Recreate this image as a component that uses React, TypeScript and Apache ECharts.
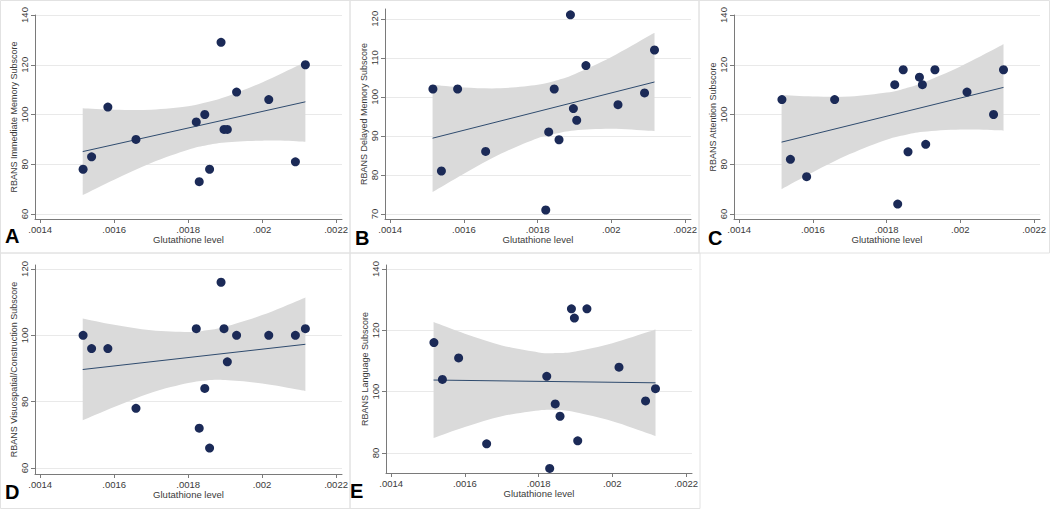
import React, { useEffect, useRef } from "react";
import * as echarts from "echarts";

// Glutathione level of each subject (shared by every panel)
const glutathione = [0.001516, 0.001539, 0.001583, 0.001659, 0.001822, 0.00183, 0.001845, 0.001858, 0.001889, 0.001897, 0.001906, 0.001931, 0.002018, 0.00209, 0.002117];

// RBANS subscores
const immediateMemory = [78, 83, 103, 90, 97, 73, 100, 78, 129, 94, 94, 109, 106, 81, 120];
const delayedMemory = [102, 81, 102, 86, 71, 91, 102, 89, 121, 97, 94, 108, 98, 101, 112];
const attention = [106, 82, 75, 106, 112, 64, 118, 85, 115, 112, 88, 118, 109, 100, 118];
const visuospatial = [100, 96, 96, 78, 102, 72, 84, 66, 116, 102, 92, 100, 100, 100, 102];
const language = [116, 104, 111, 83, 105, 75, 96, 92, 127, 124, 84, 127, 108, 97, 101];

// Fitted line end points and 95% confidence band
const fitX = [0.001515, 0.002117];
const bandX = [0.001515, 0.0016, 0.0017, 0.0018, 0.00185, 0.0019, 0.002, 0.0021, 0.002117];

const fitA = [85.1, 105.1];
const upperA = [102.5, 101.9, 101.9, 103.3, 104.9, 107.0, 112.9, 119.9, 121.2];
const lowerA = [67.6, 73.8, 80.5, 85.8, 87.6, 88.7, 89.5, 89.2, 89.1];

const fitB = [89.4, 103.8];
const upperB = [103.1, 102.4, 102.2, 103.1, 104.2, 105.8, 110.2, 115.5, 116.4];
const lowerB = [75.6, 80.3, 85.4, 89.4, 90.6, 91.4, 91.8, 91.3, 91.2];

const fitC = [88.9, 110.9];
const upperC = [107.8, 107.2, 107.2, 108.8, 110.5, 112.9, 119.3, 126.9, 128.3];
const lowerC = [70.0, 76.8, 84.1, 89.9, 91.8, 93.1, 94.0, 93.7, 93.5];

const fitD = [89.7, 97.3];
const upperD = [105.1, 103.2, 101.5, 101.0, 101.5, 102.6, 106.1, 110.6, 111.4];
const lowerD = [74.4, 78.4, 82.7, 85.6, 86.4, 86.5, 85.5, 83.6, 83.2];

const fitE = [103.8, 102.9];
const upperE = [122.7, 118.9, 115.1, 112.8, 112.6, 113.1, 115.8, 119.6, 120.3];
const lowerE = [84.9, 88.5, 92.0, 93.9, 94.0, 93.3, 90.4, 86.3, 85.5];

// Tick values and labels
const xTickValues = [0.0014, 0.0016, 0.0018, 0.002, 0.0022];
const xTickLabels = [".0014", ".0016", ".0018", ".002", ".0022"];
const yTicksA = [60, 80, 100, 120, 140];
const yTicksB = [70, 80, 90, 100, 110, 120];
const yTicksC = [60, 80, 100, 120, 140];
const yTicksD = [60, 80, 100, 120];
const yTicksE = [80, 100, 120, 140];

const xTitle = "Glutathione level";
const yTitles = [
  "RBANS Immediate Memory Subscore",
  "RBANS Delayed Memory Subscore",
  "RBANS Attention Subscore",
  "RBANS Visuospatial/Construction Subscore",
  "RBANS Language Subscore",
];
const panelLetters = ["A", "B", "C", "D", "E"];

const FONT = "'Liberation Sans', Arial, sans-serif";

// Smooth path through screen points (Catmull-Rom rendered as cubic Bezier)
function smoothSegments(pts: number[][]): string {
  let d = "";
  const n = pts.length;
  for (let i = 0; i < n - 1; i++) {
    const p0 = pts[Math.max(0, i - 1)];
    const p1 = pts[i];
    const p2 = pts[i + 1];
    const p3 = pts[Math.min(n - 1, i + 2)];
    const c1x = p1[0] + (p2[0] - p0[0]) / 6;
    const c1y = p1[1] + (p2[1] - p0[1]) / 6;
    const c2x = p2[0] - (p3[0] - p1[0]) / 6;
    const c2y = p2[1] - (p3[1] - p1[1]) / 6;
    d += ` C${c1x},${c1y} ${c2x},${c2y} ${p2[0]},${p2[1]}`;
  }
  return d;
}

export default function App() {
  const ref = useRef<HTMLDivElement>(null);

  useEffect(() => {
    if (!ref.current) return;
    const chart = echarts.init(ref.current, undefined, { renderer: "svg" });

    const panels = [
      { y: immediateMemory, fit: fitA, up: upperA, lo: lowerA, ticks: yTicksA, ymin: 58, ymax: 140, grid: { left: 35, top: 15, width: 307, height: 204 } },
      { y: delayedMemory, fit: fitB, up: upperB, lo: lowerB, ticks: yTicksB, ymin: 68.7, ymax: 122.5, grid: { left: 385, top: 9, width: 306, height: 210 } },
      { y: attention, fit: fitC, up: upperC, lo: lowerC, ticks: yTicksC, ymin: 58, ymax: 140, grid: { left: 734, top: 15, width: 306, height: 204 } },
      { y: visuospatial, fit: fitD, up: upperD, lo: lowerD, ticks: yTicksD, ymin: 58.2, ymax: 121.2, grid: { left: 35, top: 265, width: 307, height: 209 } },
      { y: language, fit: fitE, up: upperE, lo: lowerE, ticks: yTicksE, ymin: 73.5, ymax: 141.3, grid: { left: 386, top: 265, width: 306, height: 208 } },
    ];

    const axisColor = "#7a7a7a";
    const labelColor = "#3a3a3a";

    const grids = panels.map((p) => ({ ...p.grid, containLabel: false }));
    const xAxes = panels.map((p, i) => ({
      type: "value",
      gridIndex: i,
      min: 0.001386,
      max: 0.002216,
      name: xTitle,
      nameLocation: "middle",
      nameGap: 15,
      nameTextStyle: { fontFamily: FONT, fontSize: 9.5, color: labelColor },
      axisLine: { show: true, lineStyle: { color: axisColor, width: 1 } },
      axisTick: { show: true, length: 4, lineStyle: { color: axisColor }, customValues: xTickValues },
      axisLabel: {
        customValues: xTickValues,
        margin: 5,
        fontFamily: FONT,
        fontSize: 9.5,
        color: labelColor,
        formatter: (v: number) => {
          const k = xTickValues.findIndex((t) => Math.abs(t - v) < 1e-9);
          return k >= 0 ? xTickLabels[k] : "";
        },
      },
      splitLine: { show: false },
    }));
    const yAxes = panels.map((p, i) => ({
      type: "value",
      gridIndex: i,
      min: p.ymin,
      max: p.ymax,
      name: yTitles[i],
      nameLocation: "middle",
      nameRotate: 90,
      nameGap: 15,
      nameTextStyle: { fontFamily: FONT, fontSize: 9, color: labelColor },
      axisLine: { show: true, lineStyle: { color: axisColor, width: 1 } },
      axisTick: { show: true, length: 4, lineStyle: { color: axisColor }, customValues: p.ticks },
      axisLabel: {
        customValues: p.ticks,
        rotate: 90,
        margin: 6,
        fontFamily: FONT,
        fontSize: 9.5,
        color: labelColor,
      },
      splitLine: { show: true, lineStyle: { color: "#e9e9e9", width: 1 } },
    }));

    const series: any[] = [];
    panels.forEach((p, i) => {
      series.push({
        type: "custom",
        xAxisIndex: i,
        yAxisIndex: i,
        data: bandX.map((x, k) => [x, p.lo[k], p.up[k]]),
        encode: { x: 0, y: [1, 2] },
        silent: true,
        z: 1,
        renderItem: (params: any, api: any) => {
          if (params.dataIndex !== 0) return null;
          const upPts = bandX.map((x, k) => api.coord([x, p.up[k]]));
          const loPts = bandX.map((x, k) => api.coord([x, p.lo[k]])).reverse();
          let d = `M${upPts[0][0]},${upPts[0][1]}`;
          d += smoothSegments(upPts);
          d += ` L${loPts[0][0]},${loPts[0][1]}`;
          d += smoothSegments(loPts);
          d += " Z";
          return {
            type: "path",
            shape: { pathData: d },
            style: { fill: "#dadada", stroke: "none" },
          };
        },
      });
      series.push({
        type: "line",
        xAxisIndex: i,
        yAxisIndex: i,
        data: fitX.map((x, k) => [x, p.fit[k]]),
        symbol: "none",
        lineStyle: { color: "#2f4b6e", width: 1 },
        z: 2,
      });
      series.push({
        type: "scatter",
        xAxisIndex: i,
        yAxisIndex: i,
        data: glutathione.map((x, k) => [x, p.y[k]]),
        symbol: "circle",
        symbolSize: 9,
        itemStyle: { color: "#1b2a57", opacity: 1 },
        z: 3,
      });
    });

    const borderStyle = { stroke: "#e2e2e2", fill: "none", lineWidth: 1 };
    const graphic: any[] = [
      { type: "rect", shape: { x: 0.5, y: 0.5, width: 349.5, height: 252.5 }, style: borderStyle, silent: true },
      { type: "rect", shape: { x: 350, y: 0.5, width: 349, height: 252.5 }, style: borderStyle, silent: true },
      { type: "rect", shape: { x: 699, y: 0.5, width: 350.5, height: 252.5 }, style: borderStyle, silent: true },
      { type: "rect", shape: { x: 0.5, y: 253, width: 349.5, height: 255.5 }, style: borderStyle, silent: true },
      { type: "rect", shape: { x: 350, y: 253, width: 350, height: 255.5 }, style: borderStyle, silent: true },
    ];
    const letterPos = [
      [5, 236],
      [355, 237.5],
      [708, 238],
      [5, 492],
      [350, 490.5],
    ];
    panelLetters.forEach((L, i) => {
      graphic.push({
        type: "text",
        x: letterPos[i][0],
        y: letterPos[i][1],
        style: {
          text: L,
          fontFamily: FONT,
          fontWeight: "bold",
          fontSize: 20,
          fill: "#000",
          textAlign: "left",
          textVerticalAlign: "middle",
        },
        silent: true,
      });
    });

    chart.setOption({
      animation: false,
      backgroundColor: "#ffffff",
      grid: grids,
      xAxis: xAxes,
      yAxis: yAxes,
      series,
      graphic,
    });

    return () => chart.dispose();
  }, []);

  return (
    <div
      ref={ref}
      style={{ position: "fixed", left: 0, top: 0, width: 1050, height: 509, background: "#fff" }}
    />
  );
}
